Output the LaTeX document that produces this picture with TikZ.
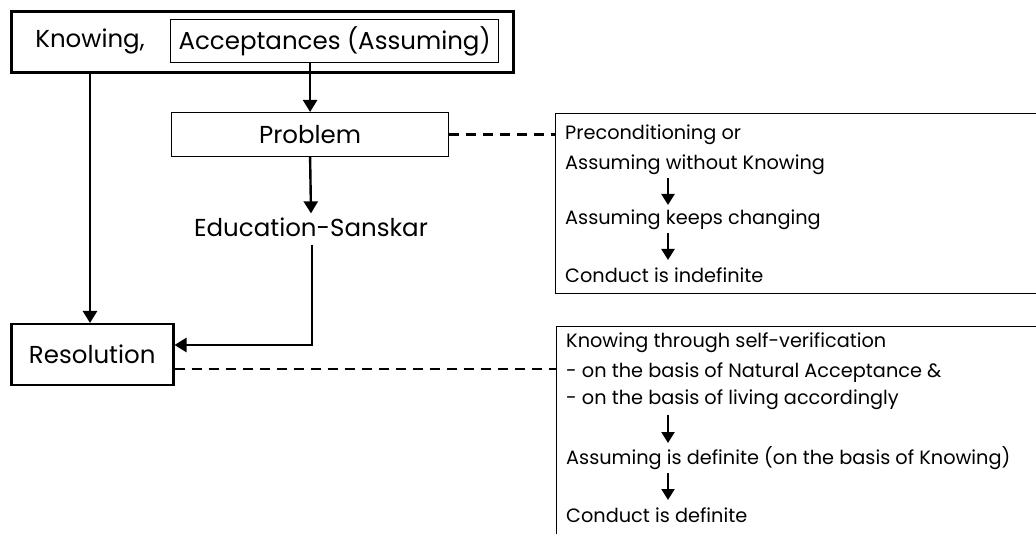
\documentclass[tikz,border=0pt]{standalone}
\usepackage{fontspec}
\setmainfont{Poppins}
\usetikzlibrary{arrows.meta,calc}
\tikzset{
  big/.style={font=\fontsize{24.5}{28}\selectfont},
  small/.style={font=\fontsize{19.3}{22}\selectfont, anchor=west, inner sep=0pt},
  framed/.style={draw, rectangle, anchor=north west, inner sep=0pt},
  arr/.style={line width=2.4pt, -{Triangle[length=12pt,width=14pt]}},
  minor/.style={line width=2.2pt, -{Triangle[length=11pt,width=13pt]}},
  dashline/.style={line width=2.2pt, dash pattern=on 10pt off 7pt},
}
\begin{document}
\begin{tikzpicture}[x=1pt,y=-1pt]
\useasboundingbox (0,0) rectangle (1036,534);

% left column
\node[framed, line width=2.8pt, minimum width=502, minimum height=61] (top) at (10,10) {};
\node[framed, line width=1.2pt, minimum width=328, minimum height=43] (acc) at (170,19) {};
\node[big] (acct) at (acc.center) {Acceptances (Assuming)};
\node[big] (know) at (90,41) {Knowing,};
\node[framed, line width=1.2pt, minimum width=277, minimum height=44] (prob) at (171,112) {};
\node[big] at (prob.center) {Problem};
\node[big, inner sep=0pt] (edu) at (311,227) {Education-Sanskar};
\node[framed, line width=2.5pt, minimum width=162, minimum height=61] (res) at (10,323) {};
\node[big] at (res.center) {Resolution};

\coordinate (lx) at (90,0);
\coordinate (bend) at (312,345);
\draw[arr] (top.south -| lx) -- (res.north -| lx);
\draw[arr] (acc.south -| prob.north) -- (prob.north);
\draw[arr] (prob.south) -- ([yshift=4pt]edu.north);
\draw[arr] ([yshift=-8pt]edu.south -| bend) -- (bend) -- (bend -| res.east);

% right column: notes
\node[framed, line width=1.2pt, minimum width=490, minimum height=180] (tbox) at (555,113) {};
\node[framed, line width=1.2pt, minimum width=490, minimum height=220] (bbox) at (556,326) {};

\coordinate (ax) at (668,0);
\node[small] (p1) at (565,135) {Preconditioning or};
\node[small] (p2) at (565,165) {Assuming without Knowing};
\node[small] (p3) at (565,220) {Assuming keeps changing};
\node[small] (p4) at (565,275) {Conduct is indefinite};
\draw[minor] (ax |- 0,178) -- (ax |- 0,205);
\draw[minor] (ax |- 0,233) -- (ax |- 0,260);

\node[small] (q1) at (566,343) {Knowing through self-verification};
\node[small] (q2) at (566,373) {- on the basis of Natural Acceptance \&};
\node[small] (q3) at (566,400) {- on the basis of living accordingly};
\node[small] (q4) at (566,458) {Assuming is definite (on the basis of Knowing)};
\node[small] (q5) at (566,515) {Conduct is definite};
\draw[minor] (ax |- 0,415) -- (ax |- 0,443);
\draw[minor] (ax |- 0,473) -- (ax |- 0,500);

% dashed links to the notes
\coordinate (rd) at ($(res.east)+(0,14)$);
\draw[dashline] (prob.east) -- (prob.east -| tbox.west);
\draw[dashline] (rd) -- (rd -| bbox.west);
\end{tikzpicture}
\end{document}
